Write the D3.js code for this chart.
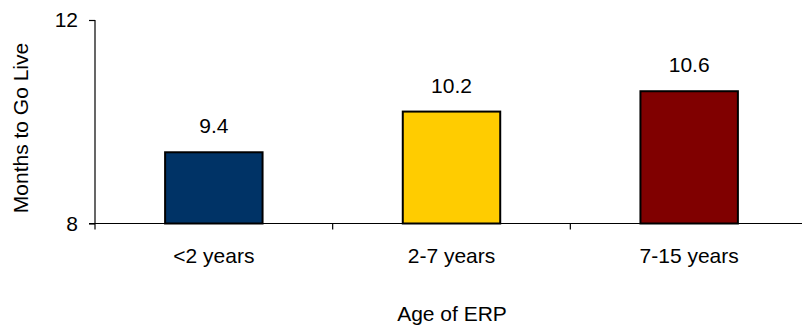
<!DOCTYPE html>
<html>
<head>
<meta charset="utf-8">
<script src="https://cdn.jsdelivr.net/npm/d3@7"></script>
<style>
  html, body { margin: 0; padding: 0; background: #fff; }
  svg { display: block; font-family: "Liberation Sans", Arial, sans-serif; }
</style>
</head>
<body>
<svg id="chart" width="802" height="326"></svg>
<script>
// Average months to go live, by age of the ERP system
const categories = ["<2 years", "2-7 years", "7-15 years"];
const values = [9.4, 10.2, 10.6];
const barColors = ["#003366", "#FFCC00", "#800000"];
const yTicks = [8, 12];

const svg = d3.select("#chart");

const x = d3.scaleBand()
  .domain(categories)
  .range([95, 808])
  .paddingInner(0.59)
  .paddingOuter(0.295);

const y = d3.scaleLinear()
  .domain([8, 12])
  .range([223.5, 20]);

const axisColor = "#000";
const fs = 21;

// Y axis
const yAxis = d3.axisLeft(y).tickValues(yTicks).tickSize(6).tickPadding(11).tickFormat(d3.format("d"));
const yG = svg.append("g").attr("transform", "translate(95,0)").call(yAxis);
yG.select(".domain").attr("stroke", axisColor).attr("stroke-width", 1.2).attr("d", `M0,${y(12)}V${y(8)}`);
yG.selectAll(".tick line").attr("stroke", axisColor).attr("stroke-width", 1.2);
yG.selectAll(".tick text")
  .attr("font-size", fs).attr("fill", "#000")
  .attr("font-family", "Liberation Sans, Arial, sans-serif");

// Bars
svg.append("g").selectAll("rect")
  .data(values)
  .join("rect")
  .attr("x", (d, i) => x(categories[i]))
  .attr("y", d => y(d))
  .attr("width", x.bandwidth())
  .attr("height", d => y(8) - y(d))
  .attr("fill", (d, i) => barColors[i])
  .attr("stroke", "#000")
  .attr("stroke-width", 2);

// X axis baseline and category boundary ticks
const gap = (x.step() - x.bandwidth()) / 2;
const boundaries = categories.map(c => x(c) - gap).concat([x(categories[2]) + x.bandwidth() + gap]);
svg.append("line")
  .attr("x1", 89).attr("x2", 808)
  .attr("y1", y(8)).attr("y2", y(8))
  .attr("stroke", axisColor).attr("stroke-width", 1.2);
svg.append("g").selectAll("line")
  .data(boundaries)
  .join("line")
  .attr("x1", d => d).attr("x2", d => d)
  .attr("y1", y(8)).attr("y2", y(8) + 6)
  .attr("stroke", axisColor).attr("stroke-width", 1.2);

// Category labels
svg.append("g").selectAll("text")
  .data(categories)
  .join("text")
  .attr("x", d => x(d) + x.bandwidth() / 2)
  .attr("y", 263)
  .attr("text-anchor", "middle")
  .attr("font-size", fs)
  .text(d => d);

// Value labels
svg.append("g").selectAll("text")
  .data(values)
  .join("text")
  .attr("x", (d, i) => x(categories[i]) + x.bandwidth() / 2)
  .attr("y", d => y(d) - 19)
  .attr("text-anchor", "middle")
  .attr("font-size", fs)
  .text(d => d3.format(".1f")(d));

// Axis titles
svg.append("text")
  .attr("x", 452)
  .attr("y", 321)
  .attr("text-anchor", "middle")
  .attr("font-size", fs)
  .text("Age of ERP");

svg.append("text")
  .attr("transform", "translate(28,128) rotate(-90)")
  .attr("text-anchor", "middle")
  .attr("font-size", fs)
  .text("Months to Go Live");
</script>
</body>
</html>
